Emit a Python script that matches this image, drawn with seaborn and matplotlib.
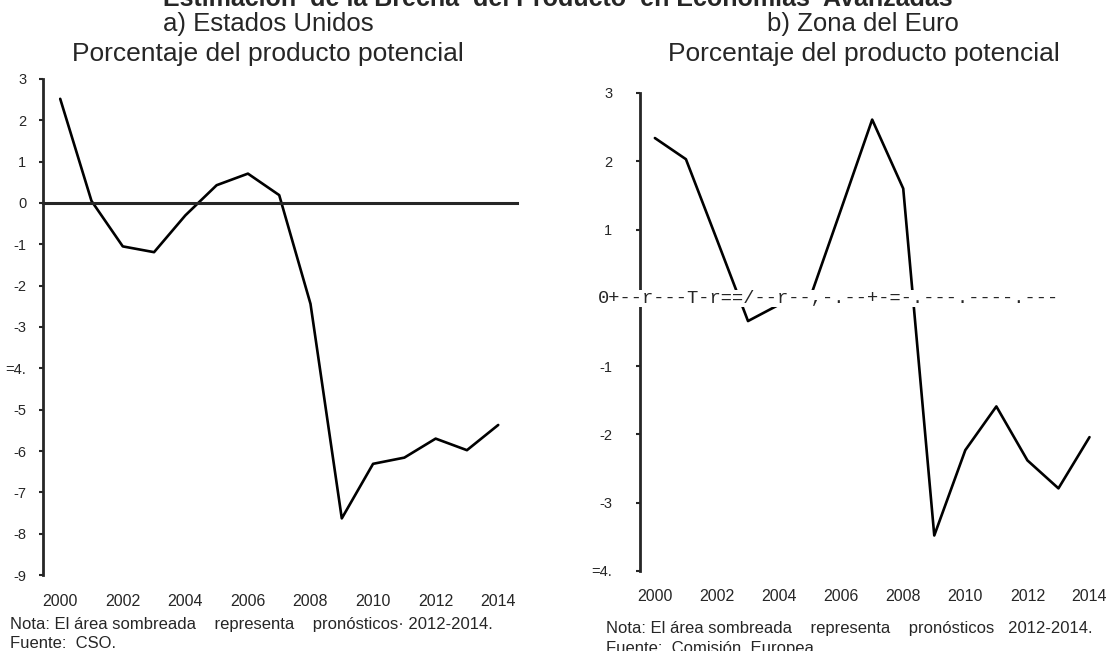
"""
Brecha del producto: Estados Unidos y Zona del Euro (2000-2014).

    python plot.py
"""

import matplotlib

matplotlib.use("Agg")
import matplotlib.pyplot as plt
import pandas as pd
import seaborn as sns

YEARS = list(range(2000, 2015))
US_GAP = [2.52, 0.05, -1.05, -1.19, -0.30, 0.43, 0.71, 0.19, -2.44, -7.63, -6.31, -6.16, -5.70, -5.98, -5.37]
EURO_GAP = [2.34, 2.03, 0.85, -0.34, -0.10, 0.00, 1.30, 2.61, 1.60, -3.48, -2.23, -1.59, -2.38, -2.79, -2.04]

YEAR_TICKS = list(range(2000, 2015, 2))
US_YTICKS = [3, 2, 1, 0, -1, -2, -3, -4, -5, -6, -7, -8, -9]
US_YLABELS = ["3", "2", "1", "0", "-1", "-2", "-3", "=4.", "-5", "-6", "-7", "-8", "-9"]
EU_YTICKS = [3, 2, 1, 0, -1, -2, -3, -4]
EU_YLABELS = ["3", "2", "1", "", "-1", "-2", "-3", "=4."]
US_BOUNDARY_TICKS = [2001.5, 2003.5, 2005.5, 2007.5, 2009.5, 2011.5, 2013.5]

TITLE = "Estimación  de la Brecha  del Producto  en Economías  Avanzadas"
SUB_US = "a) Estados Unidos"
SUB_EU = "b) Zona del Euro"
UNITS = "Porcentaje del producto potencial"
NOTE_US = "Nota: El área sombreada    representa    pronósticos· 2012-2014."
NOTE_EU = "Nota: El área sombreada    representa    pronósticos   2012-2014."
SRC_US = "Fuente:  CSO."
SRC_EU = "Fuente:  Comisión  Europea"
# texto escaneado que tapa la línea del cero en el panel b)
EU_ZERO_SCAN = "0+--r---T-r==/--r--,-.--+-=-.---.----.---"

sns.set_theme(style="white")
plt.rcParams["font.family"] = ["Liberation Sans", "DejaVu Sans"]
plt.rcParams["axes.linewidth"] = 2.0

us = pd.DataFrame({"year": YEARS, "gap": US_GAP})
eu = pd.DataFrame({"year": YEARS, "gap": EURO_GAP})

fig = plt.figure(figsize=(11.08, 6.51), dpi=100)
ax1 = fig.add_axes([0.0388, 0.1167, 0.4278, 0.762])
ax2 = fig.add_axes([0.5776, 0.1229, 0.4197, 0.7343])

tick_font = {"size": 10.5}

# --- a) Estados Unidos ---
sns.lineplot(data=us, x="year", y="gap", ax=ax1, color="black", linewidth=1.9)
ax1.set_xlim(1999.45, 2014.6)
ax1.set_ylim(-9, 3)
for side in ("top", "right"):
    ax1.spines[side].set_visible(False)
ax1.spines["bottom"].set_position(("data", 0))
ax1.spines["bottom"].set_linewidth(2.2)
ax1.set_xticks([])
ax1.set_xticks(US_BOUNDARY_TICKS, minor=True)
ax1.tick_params(axis="x", which="minor", direction="out", length=4, width=1.5, labelbottom=False)
ax1.set_yticks(US_YTICKS)
ax1.set_yticklabels(US_YLABELS, fontdict=tick_font)
ax1.tick_params(axis="y", direction="out", length=3, width=1.5, pad=9, left=True)
ax1.set_xlabel("")
ax1.set_ylabel("")

sec1 = ax1.secondary_xaxis(0)
sec1.set_xticks(YEAR_TICKS)
sec1.set_xticklabels([str(y) for y in YEAR_TICKS], fontsize=11.5)
sec1.tick_params(length=0, pad=14)
sec1.spines["bottom"].set_visible(False)

# --- b) Zona del Euro ---
sns.lineplot(data=eu, x="year", y="gap", ax=ax2, color="black", linewidth=1.9)
ax2.set_xlim(1999.52, 2014.5)
ax2.set_ylim(-4, 3)
for side in ("top", "right", "bottom"):
    ax2.spines[side].set_visible(False)
ax2.set_xticks(YEAR_TICKS)
ax2.set_xticklabels([str(y) for y in YEAR_TICKS], fontsize=11.5)
ax2.tick_params(axis="x", length=0, pad=13)
ax2.set_yticks(EU_YTICKS)
ax2.set_yticklabels(EU_YLABELS, fontdict=tick_font)
ax2.tick_params(axis="y", direction="out", length=3, width=1.5, pad=17, left=True)
ax2.set_xlabel("")
ax2.set_ylabel("")
ax2.text(1998.17, -0.08, EU_ZERO_SCAN, family=["Liberation Mono", "DejaVu Sans Mono"],
         fontsize=13.5, ha="left", va="baseline", clip_on=False, zorder=5,
         bbox=dict(facecolor="white", edgecolor="none", pad=0))

# --- titles and notes ---
fig.text(0.503, 0.991, TITLE, ha="center", va="baseline", fontsize=18, fontweight="bold")
fig.text(0.242, 0.982, SUB_US, ha="center", va="top", fontsize=18.5)
fig.text(0.779, 0.982, SUB_EU, ha="center", va="top", fontsize=18.5)
fig.text(0.242, 0.936, UNITS, ha="center", va="top", fontsize=19)
fig.text(0.780, 0.936, UNITS, ha="center", va="top", fontsize=19)
fig.text(0.009, 0.041, NOTE_US, ha="left", va="center", fontsize=12)
fig.text(0.009, 0.011, SRC_US, ha="left", va="center", fontsize=12)
fig.text(0.547, 0.035, NOTE_EU, ha="left", va="center", fontsize=12)
fig.text(0.547, 0.004, SRC_EU, ha="left", va="center", fontsize=12)

fig.savefig("out.png", dpi=100, facecolor="white")
plt.close(fig)
